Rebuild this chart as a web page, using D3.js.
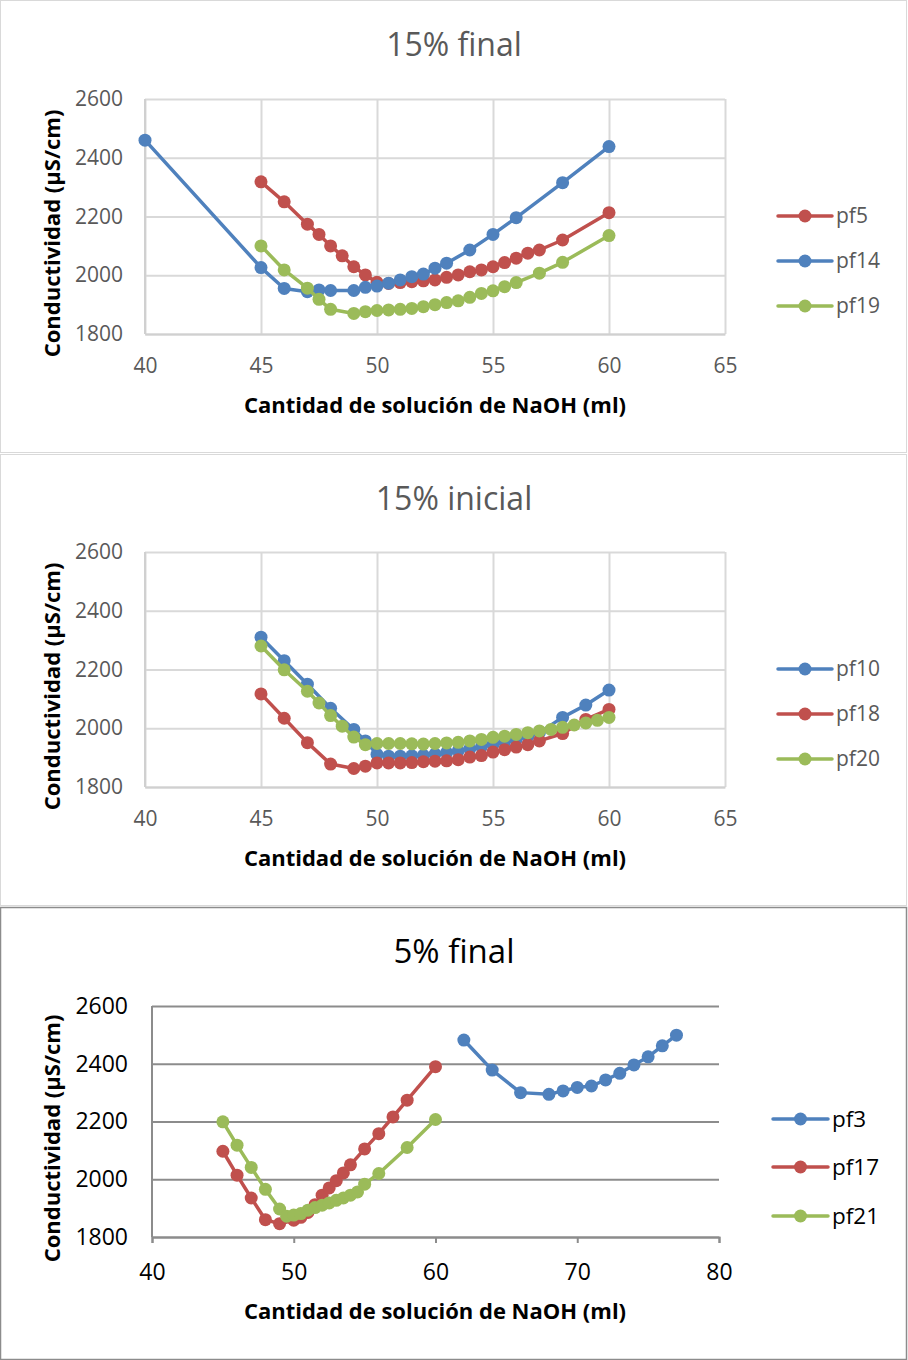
<!DOCTYPE html>
<html>
<head>
<meta charset="utf-8">
<script src="https://cdn.jsdelivr.net/npm/d3@7"></script>
<style>
  body { margin: 0; background: #fff; }
  svg text { font-family: "Open Sans", sans-serif; }
</style>
</head>
<body>
<div id="chart"></div>
<script>
// ---- data ----
const yTicks = [1800, 2000, 2200, 2400, 2600];
const xTicksA = [40, 45, 50, 55, 60, 65];
const xTicksB = [40, 50, 60, 70, 80];

// 15% final
const pf5X = [45, 46, 47, 47.5, 48, 48.5, 49, 49.5, 50, 50.5, 51, 51.5, 52, 52.5, 53, 53.5, 54, 54.5, 55, 55.5, 56, 56.5, 57, 58, 60];
const pf5Y = [2318, 2250, 2174, 2139, 2100, 2066, 2029, 2001, 1976, 1972, 1975, 1978, 1981, 1984, 1993, 2001, 2012, 2018, 2029, 2043, 2058, 2075, 2086, 2120, 2213];
const pf14X = [40, 45, 46, 47, 47.5, 48, 49, 49.5, 50, 50.5, 51, 51.5, 52, 52.5, 53, 54, 55, 56, 58, 60];
const pf14Y = [2460, 2026, 1955, 1944, 1950, 1948, 1948, 1959, 1963, 1973, 1984, 1995, 2004, 2024, 2041, 2086, 2139, 2196, 2315, 2438];
const pf19X = [45, 46, 47, 47.5, 48, 49, 49.5, 50, 50.5, 51, 51.5, 52, 52.5, 53, 53.5, 54, 54.5, 55, 55.5, 56, 57, 58, 60];
const pf19Y = [2100, 2018, 1956, 1918, 1884, 1870, 1876, 1880, 1882, 1884, 1887, 1893, 1900, 1907, 1913, 1925, 1938, 1947, 1961, 1975, 2007, 2044, 2135];

// 15% inicial
const pf10X = [45, 46, 47, 48, 49, 49.5, 50, 50.5, 51, 51.5, 52, 52.5, 53, 53.5, 54, 54.5, 55, 55.5, 56, 56.5, 57, 58, 59, 60];
const pf10Y = [2310, 2230, 2150, 2068, 1996, 1957, 1911, 1905, 1905, 1906, 1908, 1912, 1917, 1923, 1930, 1937, 1945, 1953, 1962, 1972, 1985, 2037, 2079, 2130];
const pf18X = [45, 46, 47, 48, 49, 49.5, 50, 50.5, 51, 51.5, 52, 52.5, 53, 53.5, 54, 54.5, 55, 55.5, 56, 56.5, 57, 58, 59, 60];
const pf18Y = [2117, 2034, 1951, 1878, 1863, 1871, 1882, 1882, 1882, 1883, 1886, 1888, 1889, 1893, 1902, 1907, 1919, 1927, 1936, 1944, 1957, 1982, 2030, 2064];
const pf20X = [45, 46, 47, 47.5, 48, 48.5, 49, 49.5, 50, 50.5, 51, 51.5, 52, 52.5, 53, 53.5, 54, 54.5, 55, 55.5, 56, 56.5, 57, 57.5, 58, 58.5, 59, 59.5, 60];
const pf20Y = [2280, 2199, 2126, 2086, 2043, 2007, 1970, 1944, 1948, 1948, 1948, 1947, 1946, 1948, 1950, 1952, 1957, 1962, 1969, 1973, 1979, 1985, 1991, 1996, 2003, 2011, 2018, 2027, 2037];

// 5% final
const pf3X = [62, 64, 66, 68, 69, 70, 71, 72, 73, 74, 75, 76, 77];
const pf3Y = [2482, 2378, 2300, 2294, 2306, 2318, 2323, 2344, 2367, 2396, 2424, 2462, 2499];
const pf17X = [45, 46, 47, 48, 49, 50, 50.5, 51, 51.5, 52, 52.5, 53, 53.5, 54, 55, 56, 57, 58, 60];
const pf17Y = [2097, 2014, 1935, 1860, 1846, 1858, 1868, 1885, 1912, 1945, 1970, 1995, 2022, 2050, 2105, 2158, 2216, 2274, 2390];
const pf21X = [45, 46, 47, 48, 49, 49.5, 50, 50.5, 51, 51.5, 52, 52.5, 53, 53.5, 54, 54.5, 55, 56, 58, 60];
const pf21Y = [2199, 2118, 2041, 1965, 1897, 1872, 1876, 1881, 1893, 1902, 1910, 1918, 1927, 1935, 1945, 1956, 1983, 2020, 2110, 2207];

const BLUE = '#4f81bd', RED = '#c0504d', GREEN = '#9bbb59';

const toPoints = (xs, ys) => xs.map((x, i) => ({ x: x, y: ys[i] }));

const panels = [
  {
    top: 0, bottom: 452, frame: '#d9d9d9', title: '15% final',
    left: 145, right: 725, plotTop: 99, plotBottom: 334,
    xDomain: [40, 65], xTicks: xTicksA, light: true,
    legendY: [216, 261, 306],
    series: [
      { name: 'pf5', color: RED, data: toPoints(pf5X, pf5Y) },
      { name: 'pf14', color: BLUE, data: toPoints(pf14X, pf14Y) },
      { name: 'pf19', color: GREEN, data: toPoints(pf19X, pf19Y) }
    ]
  },
  {
    top: 454, bottom: 905, frame: '#d9d9d9', title: '15% inicial',
    left: 145, right: 725, plotTop: 552, plotBottom: 787,
    xDomain: [40, 65], xTicks: xTicksA, light: true,
    legendY: [669, 714, 759],
    series: [
      { name: 'pf10', color: BLUE, data: toPoints(pf10X, pf10Y) },
      { name: 'pf18', color: RED, data: toPoints(pf18X, pf18Y) },
      { name: 'pf20', color: GREEN, data: toPoints(pf20X, pf20Y) }
    ]
  },
  {
    top: 907, bottom: 1359, frame: '#8c8c8c', title: '5% final',
    left: 152, right: 719, plotTop: 1006, plotBottom: 1237,
    xDomain: [40, 80], xTicks: xTicksB, light: false,
    legendY: [1119, 1167, 1216],
    series: [
      { name: 'pf3', color: BLUE, data: toPoints(pf3X, pf3Y) },
      { name: 'pf17', color: RED, data: toPoints(pf17X, pf17Y) },
      { name: 'pf21', color: GREEN, data: toPoints(pf21X, pf21Y) }
    ]
  }
];

const svg = d3.select('#chart')
  .append('svg')
  .attr('width', 908)
  .attr('height', 1360);

panels.forEach(p => {
  const g = svg.append('g');
  const textColor = p.light ? '#595959' : '#000';
  const gridColor = p.light ? '#d9d9d9' : '#8c8c8c';

  // chart frame
  g.append('rect')
    .attr('x', 0.5).attr('y', p.top + 0.5)
    .attr('width', 906).attr('height', p.bottom - p.top)
    .attr('fill', '#fff')
    .attr('stroke', p.frame)
    .attr('stroke-width', p.light ? 1 : 1.5);

  const x = d3.scaleLinear().domain(p.xDomain).range([p.left, p.right]);
  const y = d3.scaleLinear().domain([1800, 2600]).range([p.plotBottom, p.plotTop]);

  // title
  g.append('text')
    .attr('x', 454)
    .attr('y', p.top + 55.5)
    .attr('text-anchor', 'middle')
    .style('font-size', p.light ? '32px' : '33px')
    .attr('fill', textColor)
    .text(p.title);

  // horizontal gridlines
  g.append('g')
    .attr('transform', 'translate(' + p.left + ',0)')
    .call(d3.axisLeft(y).tickValues(yTicks).tickSize(-(p.right - p.left)).tickFormat(''))
    .call(a => a.select('.domain').remove())
    .selectAll('line')
    .attr('stroke', gridColor)
    .attr('stroke-width', 2);

  // vertical gridlines (only light panels)
  if (p.light) {
    g.append('g')
      .attr('transform', 'translate(0,' + p.plotBottom + ')')
      .call(d3.axisBottom(x).tickValues(p.xTicks).tickSize(-(p.plotBottom - p.plotTop)).tickFormat(''))
      .call(a => a.select('.domain').remove())
      .selectAll('line')
      .attr('stroke', gridColor)
      .attr('stroke-width', 2);
  }

  // left axis line
  g.append('line')
    .attr('x1', p.left).attr('x2', p.left)
    .attr('y1', p.plotTop).attr('y2', p.plotBottom)
    .attr('stroke', p.light ? '#d0d0d0' : '#8c8c8c')
    .attr('stroke-width', 2);

  // x axis
  const xAxis = g.append('g')
    .attr('transform', 'translate(0,' + p.plotBottom + ')')
    .call(d3.axisBottom(x).tickValues(p.xTicks).tickSize(p.light ? 0 : 6).tickPadding(p.light ? 24 : 21).tickFormat(d3.format('d')));
  xAxis.select('.domain')
    .attr('stroke', p.light ? '#d0d0d0' : '#8c8c8c')
    .attr('stroke-width', 2);
  xAxis.selectAll('line').attr('stroke', '#8c8c8c').attr('stroke-width', 2);
  xAxis.selectAll('text')
    .attr('fill', textColor)
    .style('font-size', p.light ? '21px' : '23px');

  // y tick labels
  const yAxis = g.append('g')
    .attr('transform', 'translate(' + p.left + ',0)')
    .call(d3.axisLeft(y).tickValues(yTicks).tickSize(0).tickPadding(p.light ? 22 : 24).tickFormat(d3.format('d')));
  yAxis.select('.domain').remove();
  yAxis.selectAll('text')
    .attr('fill', textColor)
    .style('font-size', p.light ? '21px' : '23px');

  // axis titles
  g.append('text')
    .attr('x', 435)
    .attr('y', p.plotBottom + (p.light ? 79 : 82))
    .attr('text-anchor', 'middle')
    .style('font-size', '22px')
    .style('font-weight', 'bold')
    .attr('fill', '#000')
    .text('Cantidad de solución de NaOH (ml)');

  g.append('text')
    .attr('transform', 'translate(60,' + ((p.plotTop + p.plotBottom) / 2 + 17) + ') rotate(-90)')
    .attr('text-anchor', 'middle')
    .style('font-size', '22px')
    .style('font-weight', 'bold')
    .attr('fill', '#000')
    .text('Conductividad (µS/cm)');

  // series
  const line = d3.line().x(d => x(d.x)).y(d => y(d.y));
  p.series.forEach(s => {
    const sg = g.append('g');
    sg.append('path')
      .datum(s.data)
      .attr('fill', 'none')
      .attr('stroke', s.color)
      .attr('stroke-width', 3.5)
      .attr('stroke-linejoin', 'round')
      .attr('d', line);
    sg.selectAll('circle')
      .data(s.data)
      .enter().append('circle')
      .attr('cx', d => x(d.x))
      .attr('cy', d => y(d.y))
      .attr('r', 6.5)
      .attr('fill', s.color);
  });

  // legend
  const lx0 = p.light ? 778 : 773;
  const lx1 = p.light ? 832 : 828;
  p.series.forEach((s, i) => {
    const ly = p.legendY[i];
    g.append('line')
      .attr('x1', lx0).attr('x2', lx1)
      .attr('y1', ly).attr('y2', ly)
      .attr('stroke', s.color)
      .attr('stroke-width', 3.5)
      .attr('stroke-linecap', 'round');
    g.append('circle')
      .attr('cx', (lx0 + lx1) / 2).attr('cy', ly)
      .attr('r', 6.5)
      .attr('fill', s.color);
    g.append('text')
      .attr('x', lx1 + 4)
      .attr('y', ly)
      .attr('dy', '0.35em')
      .style('font-size', p.light ? '21px' : '22.5px')
      .attr('fill', textColor)
      .text(s.name);
  });
});
</script>
</body>
</html>
